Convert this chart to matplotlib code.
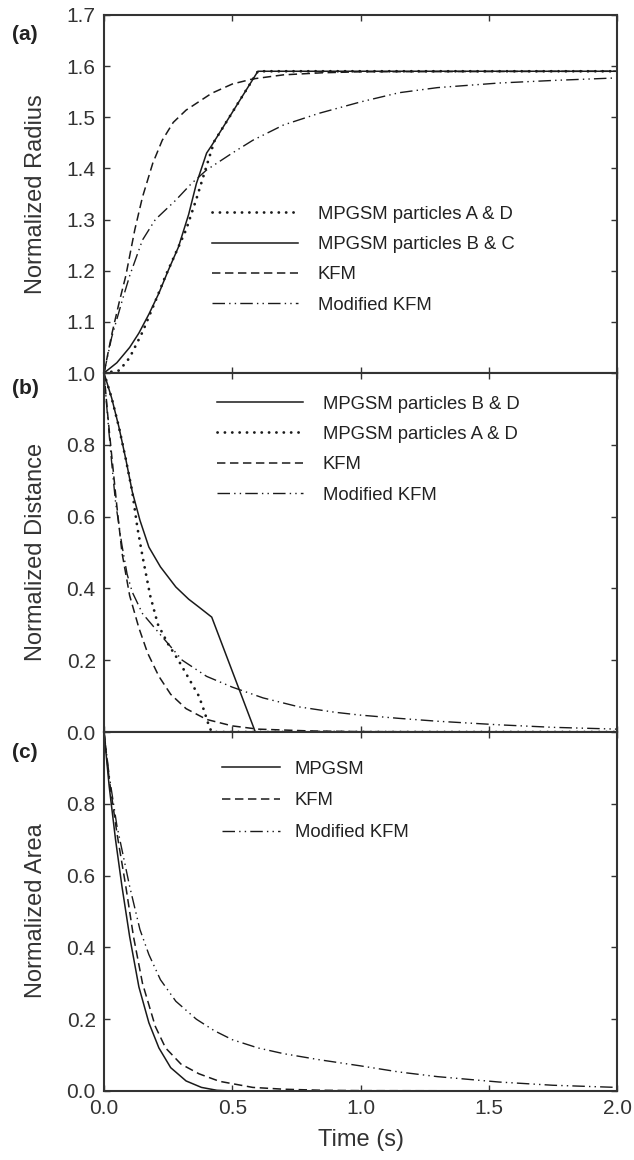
import matplotlib
matplotlib.use("Agg")
import matplotlib.pyplot as plt

plt.rcParams['font.family'] = ['Liberation Sans', 'DejaVu Sans']

# ---------------- data ----------------
# (a) Normalized radius
t_a_AD = [0, 0.06, 0.1, 0.15, 0.2, 0.24, 0.28, 0.32, 0.36, 0.40, 0.43, 0.6, 2.0]
r_a_AD = [1.0, 1.005, 1.03, 1.08, 1.14, 1.19, 1.235, 1.28, 1.34, 1.405, 1.453, 1.59, 1.59]
t_a_BC = [0, 0.05, 0.1, 0.136, 0.175, 0.214, 0.25, 0.29, 0.33, 0.36, 0.40, 0.42, 0.6, 2.0]
r_a_BC = [1.0, 1.02, 1.05, 1.078, 1.115, 1.156, 1.2, 1.246, 1.31, 1.37, 1.43, 1.445, 1.59, 1.59]
t_a_KFM = [0, 0.03, 0.06, 0.085, 0.12, 0.15, 0.19, 0.227, 0.27, 0.32, 0.42, 0.5, 0.58, 0.7, 0.85, 1.0, 2.0]
r_a_KFM = [1.0, 1.075, 1.14, 1.19, 1.28, 1.344, 1.41, 1.455, 1.49, 1.514, 1.547, 1.565, 1.575, 1.583, 1.587, 1.589, 1.59]
t_a_MKFM = [0, 0.03, 0.07, 0.1, 0.15, 0.2, 0.28, 0.34, 0.40, 0.5, 0.58, 0.7, 0.84, 1.0, 1.15, 1.3, 1.54, 1.75, 2.0]
r_a_MKFM = [1.0, 1.07, 1.14, 1.19, 1.26, 1.3, 1.338, 1.37, 1.397, 1.43, 1.455, 1.485, 1.508, 1.53, 1.548, 1.558, 1.567, 1.572, 1.577]

# (b) Normalized distance
t_b_BD = [0, 0.03, 0.058, 0.085, 0.11, 0.14, 0.175, 0.22, 0.28, 0.33, 0.37, 0.42, 0.59, 2.0]
d_b_BD = [1.0, 0.93, 0.85, 0.76, 0.67, 0.59, 0.515, 0.46, 0.404, 0.37, 0.348, 0.32, 0.0, 0.0]
t_b_AD = [0, 0.03, 0.058, 0.085, 0.11, 0.13, 0.15, 0.18, 0.21, 0.25, 0.29, 0.33, 0.37, 0.39, 0.41, 0.42, 2.0]
d_b_AD = [1.0, 0.93, 0.85, 0.76, 0.67, 0.57, 0.49, 0.38, 0.30, 0.245, 0.2, 0.15, 0.1, 0.06, 0.015, 0.0, 0.0]
t_b_KFM = [0, 0.015, 0.03, 0.05, 0.07, 0.1, 0.136, 0.17, 0.214, 0.26, 0.32, 0.4, 0.5, 0.6, 0.8, 1.0, 2.0]
d_b_KFM = [1.0, 0.88, 0.77, 0.63, 0.5, 0.38, 0.29, 0.22, 0.155, 0.105, 0.065, 0.035, 0.017, 0.008, 0.003, 0.001, 0.0]
t_b_MKFM = [0, 0.015, 0.03, 0.045, 0.07, 0.09, 0.11, 0.15, 0.214, 0.305, 0.4, 0.5, 0.62, 0.76, 0.9, 1.0, 1.15, 1.3, 1.54, 1.75, 2.0]
d_b_MKFM = [1.0, 0.87, 0.75, 0.64, 0.52, 0.44, 0.39, 0.33, 0.276, 0.2, 0.155, 0.125, 0.095, 0.07, 0.055, 0.047, 0.038, 0.03, 0.02, 0.013, 0.008]

# (c) Normalized area
t_c_MPGSM = [0, 0.02, 0.045, 0.07, 0.1, 0.136, 0.175, 0.214, 0.26, 0.32, 0.38, 0.44, 0.5, 2.0]
a_c_MPGSM = [1.0, 0.85, 0.7, 0.57, 0.43, 0.29, 0.19, 0.12, 0.065, 0.028, 0.01, 0.002, 0.0, 0.0]
t_c_KFM = [0, 0.02, 0.05, 0.085, 0.115, 0.15, 0.2, 0.24, 0.3, 0.37, 0.45, 0.58, 0.7, 0.85, 1.0, 2.0]
a_c_KFM = [1.0, 0.87, 0.72, 0.57, 0.43, 0.30, 0.18, 0.12, 0.075, 0.048, 0.027, 0.01, 0.005, 0.002, 0.001, 0.0]
t_c_MKFM = [0, 0.02, 0.05, 0.1, 0.14, 0.175, 0.22, 0.28, 0.36, 0.43, 0.5, 0.6, 0.7, 0.84, 1.0, 1.15, 1.3, 1.54, 1.75, 2.0]
a_c_MKFM = [1.0, 0.88, 0.74, 0.57, 0.45, 0.38, 0.31, 0.25, 0.2, 0.168, 0.143, 0.12, 0.104, 0.087, 0.07, 0.053, 0.04, 0.025, 0.016, 0.01]

x_ticks = [0.0, 0.5, 1.0, 1.5, 2.0]
x_ticklabels = ['0.0', '0.5', '1.0', '1.5', '2.0']
ya_ticks = [1.0, 1.1, 1.2, 1.3, 1.4, 1.5, 1.6, 1.7]
yb_ticks = [0.0, 0.2, 0.4, 0.6, 0.8, 1.0]
yc_ticks = [0.0, 0.2, 0.4, 0.6, 0.8, 1.0]

# ---------------- styles ----------------
INK = '#1a1a1a'
SPINE = '#333333'
solid = dict(color=INK, lw=1.1, linestyle='-')
dotted = dict(color=INK, lw=2.0, linestyle=(0, (0.05, 2.6)), dash_capstyle='round')
dashed = dict(color=INK, lw=1.1, linestyle=(0, (5.5, 3.0)))
dashdotdot = dict(color=INK, lw=1.0, linestyle=(0, (9, 3, 1, 3, 1, 3)))

W, H = 634, 1160
fig = plt.figure(figsize=(W / 100, H / 100), dpi=100)

def px_axes(left, top, right, bottom):
    return fig.add_axes([left / W, 1 - bottom / H, (right - left) / W, (bottom - top) / H])

ax_a = px_axes(104, 15, 617, 373)
ax_b = px_axes(104, 373, 617, 732)
ax_c = px_axes(104, 732, 617, 1091)

# panel a
ax_a.plot(t_a_AD, r_a_AD, label='MPGSM particles A & D', **dotted)
ax_a.plot(t_a_BC, r_a_BC, label='MPGSM particles B & C', **solid)
ax_a.plot(t_a_KFM, r_a_KFM, label='KFM', **dashed)
ax_a.plot(t_a_MKFM, r_a_MKFM, label='Modified KFM', **dashdotdot)

# panel b
ax_b.plot(t_b_BD, d_b_BD, label='MPGSM particles B & D', **solid)
ax_b.plot(t_b_AD, d_b_AD, label='MPGSM particles A & D', **dotted)
ax_b.plot(t_b_KFM, d_b_KFM, label='KFM', **dashed)
ax_b.plot(t_b_MKFM, d_b_MKFM, label='Modified KFM', **dashdotdot)

# panel c
ax_c.plot(t_c_MPGSM, a_c_MPGSM, label='MPGSM', **solid)
ax_c.plot(t_c_KFM, a_c_KFM, label='KFM', **dashed)
ax_c.plot(t_c_MKFM, a_c_MKFM, label='Modified KFM', **dashdotdot)

for ax in (ax_a, ax_b, ax_c):
    ax.set_xlim(0, 2.0)
    ax.set_xticks(x_ticks)
    for s in ax.spines.values():
        s.set_linewidth(1.5)
        s.set_color(SPINE)
    ax.tick_params(direction='in', top=True, right=True, length=4, width=1,
                   color=SPINE, labelsize=15, labelcolor='#333333', pad=6)

ax_a.set_ylim(1.0, 1.7)
ax_a.set_yticks(ya_ticks)
ax_a.set_yticklabels([f'{v:.1f}' for v in ya_ticks])
ax_b.set_ylim(0.0, 1.0)
ax_b.set_yticks(yb_ticks)
ax_b.set_yticklabels([f'{v:.1f}' for v in yb_ticks[:-1]] + [''])
ax_c.set_ylim(0.0, 1.0)
ax_c.set_yticks(yc_ticks)
ax_c.set_yticklabels([f'{v:.1f}' for v in yc_ticks[:-1]] + [''])

ax_a.tick_params(labelbottom=False)
ax_b.tick_params(labelbottom=False)
ax_c.set_xticklabels(x_ticklabels)

leg_kw = dict(frameon=False, fontsize=13.3, borderpad=0, borderaxespad=0,
              loc='upper left', labelcolor='#222222')
ax_a.legend(bbox_to_anchor=(0.2105, 0.467), handlelength=4.65, handletextpad=1.08,
            labelspacing=0.72, **leg_kw)
ax_b.legend(bbox_to_anchor=(0.2203, 0.937), handlelength=4.65, handletextpad=1.08,
            labelspacing=0.72, **leg_kw)
ax_c.legend(bbox_to_anchor=(0.230, 0.920), handlelength=3.15, handletextpad=0.8,
            labelspacing=0.8, **leg_kw)

# axis labels
lab_kw = dict(fontsize=17, color='#333333', rotation=90, ha='center', va='center')
fig.text(36 / W, 1 - 194 / H, 'Normalized Radius', **lab_kw)
fig.text(36 / W, 1 - 552 / H, 'Normalized Distance', **lab_kw)
fig.text(36 / W, 1 - 911 / H, 'Normalized Area', **lab_kw)
fig.text(361 / W, 1 - 1140 / H, 'Time (s)', fontsize=17, color='#333333', ha='center', va='center')

# panel letters
pl_kw = dict(fontsize=15, fontweight='bold', color='#222222', ha='left', va='center')
fig.text(12 / W, 1 - 35 / H, '(a)', **pl_kw)
fig.text(12 / W, 1 - 388 / H, '(b)', **pl_kw)
fig.text(12 / W, 1 - 753 / H, '(c)', **pl_kw)

fig.savefig('out.png', dpi=100, facecolor='white')
